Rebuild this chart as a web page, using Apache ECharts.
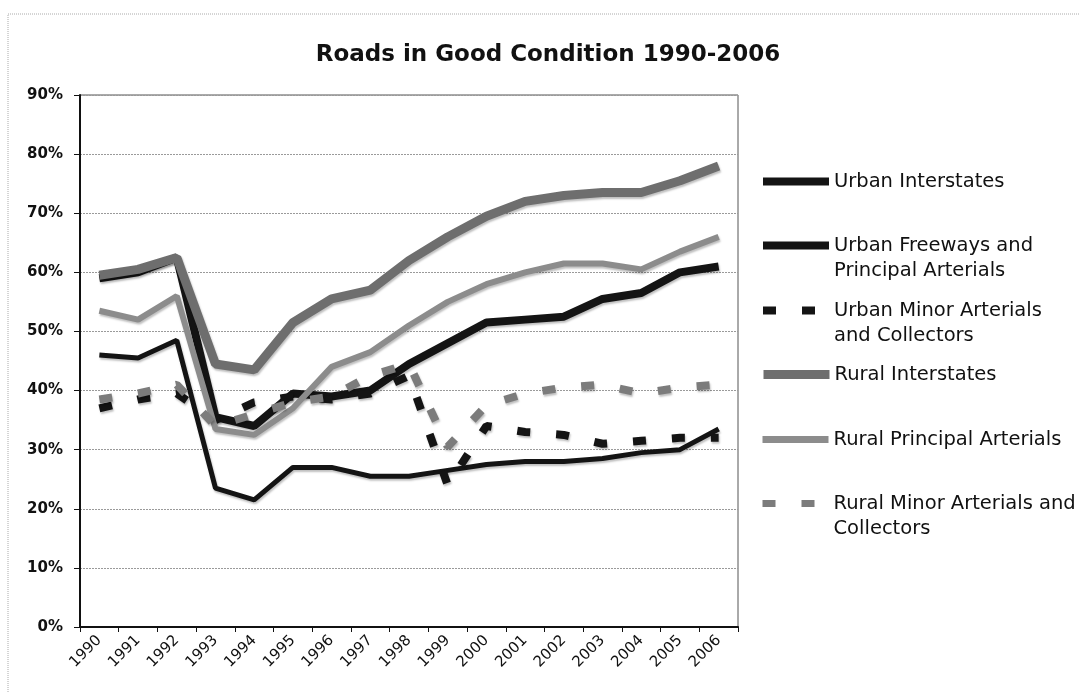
<!DOCTYPE html>
<html>
<head>
<meta charset="utf-8">
<script src="https://cdn.jsdelivr.net/npm/echarts@6/dist/echarts.min.js"></script>
<style>
  html, body { margin: 0; padding: 0; background: #fff; }
  #chart { width: 1079px; height: 692px; }
</style>
</head>
<body>
<div id="chart"></div>
<script>
  // values, in percent
  const years = ['1990', '1991', '1992', '1993', '1994', '1995', '1996', '1997', '1998',
    '1999', '2000', '2001', '2002', '2003', '2004', '2005', '2006'];
  const urbanInterstates = [59, 60, 62.5, 35.5, 34, 39.5, 39, 40, 44.5, 48, 51.5, 52, 52.5, 55.5, 56.5, 60, 61];
  const urbanFreeways = [46, 45.5, 48.5, 23.5, 21.5, 27, 27, 25.5, 25.5, 26.5, 27.5, 28, 28, 28.5, 29.5, 30, 33.5];
  const urbanMinor = [37, 38.5, 39.5, 35, 38, 39, 38.5, 39.5, 42.5, 24, 34, 33, 32.5, 31, 31.5, 32, 32];
  const ruralInterstates = [59.5, 60.5, 62.5, 44.5, 43.5, 51.5, 55.5, 57, 62, 66, 69.5, 72, 73, 73.5, 73.5, 75.5, 78];
  const ruralPrincipal = [53.5, 52, 56, 33.5, 32.5, 37, 44, 46.5, 51, 55, 58, 60, 61.5, 61.5, 60.5, 63.5, 66];
  const ruralMinor = [38.5, 39.5, 41, 34, 36, 38, 39, 42.5, 44.5, 30.5, 37.5, 39.5, 40.5, 41, 39.5, 40.5, 41];
  const yTicks = [0, 10, 20, 30, 40, 50, 60, 70, 80, 90];

  // legend text as it wraps in the original
  const legendLines = {
    'Urban Freeways and Principal Arterials': 'Urban Freeways and\nPrincipal Arterials',
    'Urban Minor Arterials and Collectors': 'Urban Minor Arterials\nand Collectors',
    'Rural Minor Arterials and Collectors': 'Rural Minor Arterials and\nCollectors'
  };

  const font = '"DejaVu Sans", Verdana, sans-serif';
  const dash = [13, 26];

  function line(name, data, color, width, type) {
    return {
      name: name,
      type: 'line',
      data: data,
      symbol: 'none',
      lineStyle: {
        color: color,
        width: width,
        type: type || 'solid',
        cap: 'butt',
        shadowColor: 'rgba(0,0,0,0.25)',
        shadowBlur: 2,
        shadowOffsetX: 1,
        shadowOffsetY: 2
      },
      itemStyle: { color: color }
    };
  }

  function legendItem(name, top, width) {
    return {
      data: [name],
      left: 759,
      top: top,
      padding: 0,
      itemWidth: 66,
      itemHeight: 10,
      lineStyle: { width: width },
      itemStyle: { opacity: 0 },
      // blank first line keeps the icon level with the first text line
      formatter: n => legendLines[n] ? '\n' + legendLines[n] : n,
      textStyle: {
        fontFamily: font,
        fontSize: 19.5,
        color: '#111',
        lineHeight: 25
      }
    };
  }

  const chart = echarts.init(document.getElementById('chart'));
  chart.setOption({
    animation: false,
    backgroundColor: '#fff',
    title: {
      text: 'Roads in Good Condition 1990-2006',
      left: 543,
      textAlign: 'center',
      top: 39,
      textStyle: { fontFamily: font, fontSize: 23, fontWeight: 'bold', color: '#111' }
    },
    graphic: [{
      type: 'rect',
      shape: { x: 8, y: 14, width: 1090, height: 700 },
      style: { fill: 'none', stroke: '#aaa', lineWidth: 1, lineDash: [1, 1] },
      silent: true
    }],
    legend: [
      legendItem('Urban Interstates', 169, 8),
      legendItem('Urban Freeways and Principal Arterials', 208, 8),
      legendItem('Urban Minor Arterials and Collectors', 273, 8),
      legendItem('Rural Interstates', 362, 9),
      legendItem('Rural Principal Arterials', 427, 7),
      legendItem('Rural Minor Arterials and Collectors', 466, 7)
    ],
    grid: {
      left: 80, right: 341, top: 95, bottom: 65,
      show: true, borderColor: '#555', borderWidth: 1
    },
    xAxis: {
      type: 'category',
      data: years,
      boundaryGap: true,
      axisLine: { lineStyle: { color: '#111', width: 2 } },
      axisTick: { show: true, length: 5, lineStyle: { color: '#111' } },
      axisLabel: { rotate: 45, margin: 11, fontFamily: font, fontSize: 15, color: '#111' }
    },
    yAxis: {
      type: 'value',
      min: yTicks[0],
      max: yTicks[yTicks.length - 1],
      interval: 10,
      axisLine: { show: true, lineStyle: { color: '#111', width: 2 } },
      axisTick: { show: true, length: 6, lineStyle: { color: '#111' } },
      axisLabel: { formatter: '{value}%', margin: 17, fontFamily: font, fontSize: 15, fontWeight: 'bold', color: '#111' },
      splitLine: { lineStyle: { color: '#9a9a9a', width: 1, type: [2, 1] } }
    },
    series: [
      line('Urban Interstates', urbanInterstates, '#141414', 8),
      line('Urban Freeways and Principal Arterials', urbanFreeways, '#141414', 5),
      line('Urban Minor Arterials and Collectors', urbanMinor, '#141414', 8, dash),
      line('Rural Interstates', ruralInterstates, '#6e6e6e', 9),
      line('Rural Principal Arterials', ruralPrincipal, '#8c8c8c', 6),
      line('Rural Minor Arterials and Collectors', ruralMinor, '#7c7c7c', 8, dash)
    ]
  });
</script>
</body>
</html>
